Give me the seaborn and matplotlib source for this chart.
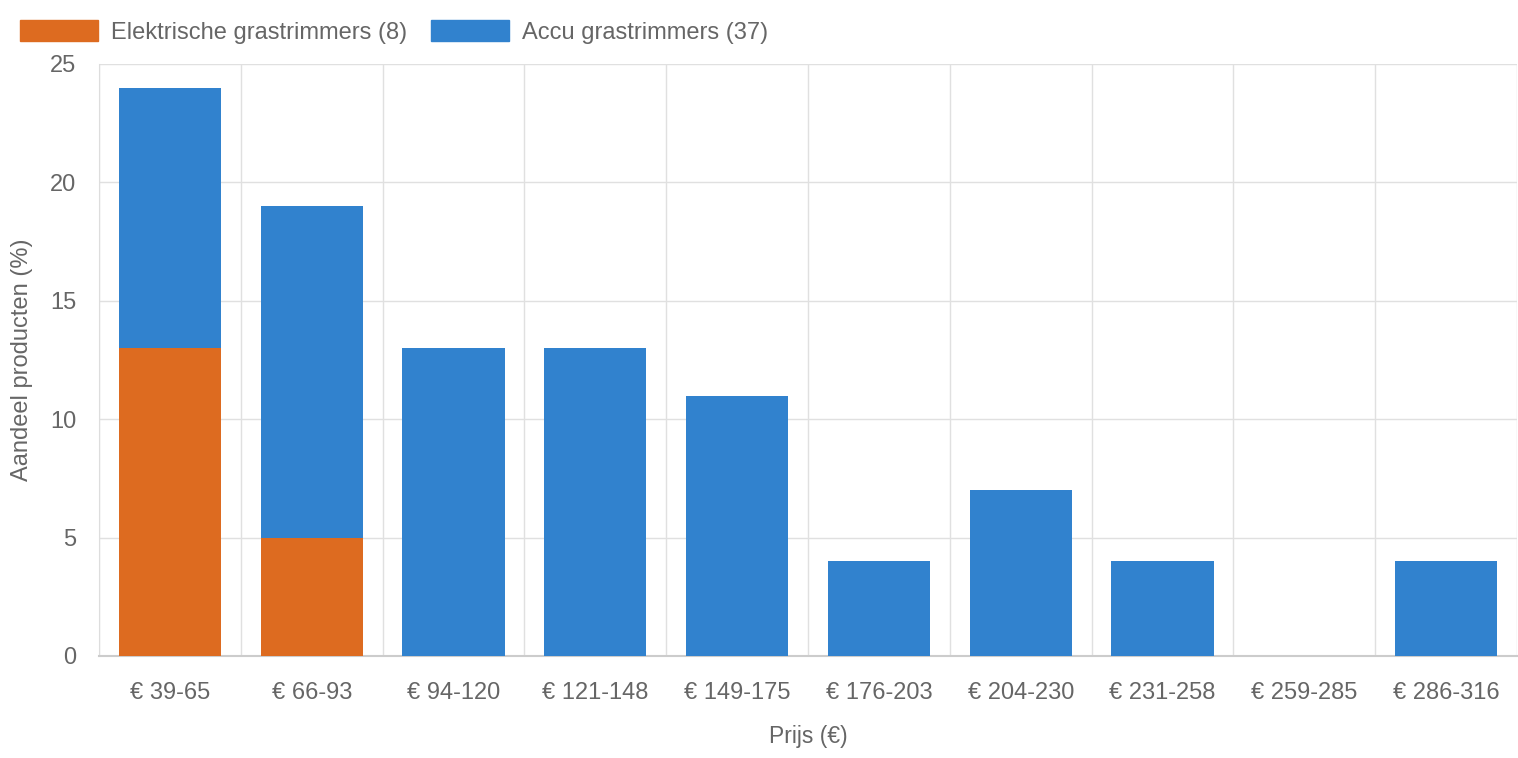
import matplotlib
matplotlib.use('Agg')
import matplotlib.pyplot as plt
import matplotlib.patches as mpatches
from matplotlib.ticker import FixedLocator
import pandas as pd
import seaborn as sns

prijs = ['€ 39-65', '€ 66-93', '€ 94-120', '€ 121-148', '€ 149-175',
         '€ 176-203', '€ 204-230', '€ 231-258', '€ 259-285', '€ 286-316']
elektrisch = [13, 5, 0, 0, 0, 0, 0, 0, 0, 0]
accu = [11, 14, 13, 13, 11, 4, 7, 4, 0, 4]

kleur_elek = '#DD6B20'
kleur_accu = '#3182CE'
grijs = '#666666'

df = pd.DataFrame({'Prijs': prijs, 'Elektrisch': elektrisch, 'Accu': accu})
df['Totaal'] = df['Elektrisch'] + df['Accu']

sns.set_style('white')
plt.rcParams['font.family'] = ['Liberation Sans', 'DejaVu Sans']

fig = plt.figure(figsize=(15.18, 7.58), dpi=100)
ax = fig.add_axes([99 / 1518, 1 - 656 / 758, 1418 / 1518, 592 / 758])

# gestapeld: eerst totaal (accu bovenop), dan elektrisch eroverheen
sns.barplot(data=df, x='Prijs', y='Totaal', color=kleur_accu, saturation=1,
            width=0.72, linewidth=0, ax=ax, zorder=3)
sns.barplot(data=df, x='Prijs', y='Elektrisch', color=kleur_elek, saturation=1,
            width=0.72, linewidth=0, ax=ax, zorder=4)

ax.set_xlim(-0.5, len(prijs) - 0.5)
ax.set_ylim(0, 25)
ax.set_yticks([0, 5, 10, 15, 20, 25])

ax.xaxis.set_minor_locator(FixedLocator([i - 0.5 for i in range(len(prijs) + 1)]))
ax.tick_params(axis='x', which='major', length=0, pad=19, labelsize=17, labelcolor=grijs)
ax.tick_params(axis='x', which='minor', length=11.5, width=1, color='#dddddd')
ax.tick_params(axis='y', length=9.4, width=1, color='#dddddd', pad=7,
               labelsize=17, labelcolor=grijs)
ax.grid(True, axis='x', which='minor', color='#e0e0e0', lw=1, zorder=0)
ax.grid(True, axis='y', which='major', color='#e0e0e0', lw=1, zorder=0)
ax.set_axisbelow(True)

for s in ['top', 'right']:
    ax.spines[s].set_visible(False)
ax.spines['left'].set_color('#dddddd')
ax.spines['bottom'].set_color('#cccccc')
ax.spines['bottom'].set_linewidth(1.5)

ax.set_xlabel('Prijs (€)', fontsize=16.5, color=grijs, labelpad=15)
ax.set_ylabel('Aandeel producten (%)', fontsize=17, color=grijs, labelpad=12)

handles = [mpatches.Patch(color=kleur_elek, label='Elektrische grastrimmers (8)'),
           mpatches.Patch(color=kleur_accu, label='Accu grastrimmers (37)')]
fig.legend(handles=handles, loc='upper left', bbox_to_anchor=(20 / 1518, 1 - 20 / 758),
           ncol=2, frameon=False, fontsize=17, labelcolor=grijs,
           handlelength=3.3, handleheight=1.0, handletextpad=0.55,
           columnspacing=1.0, borderpad=0, borderaxespad=0)

fig.savefig('out.png', dpi=100, facecolor='white')
